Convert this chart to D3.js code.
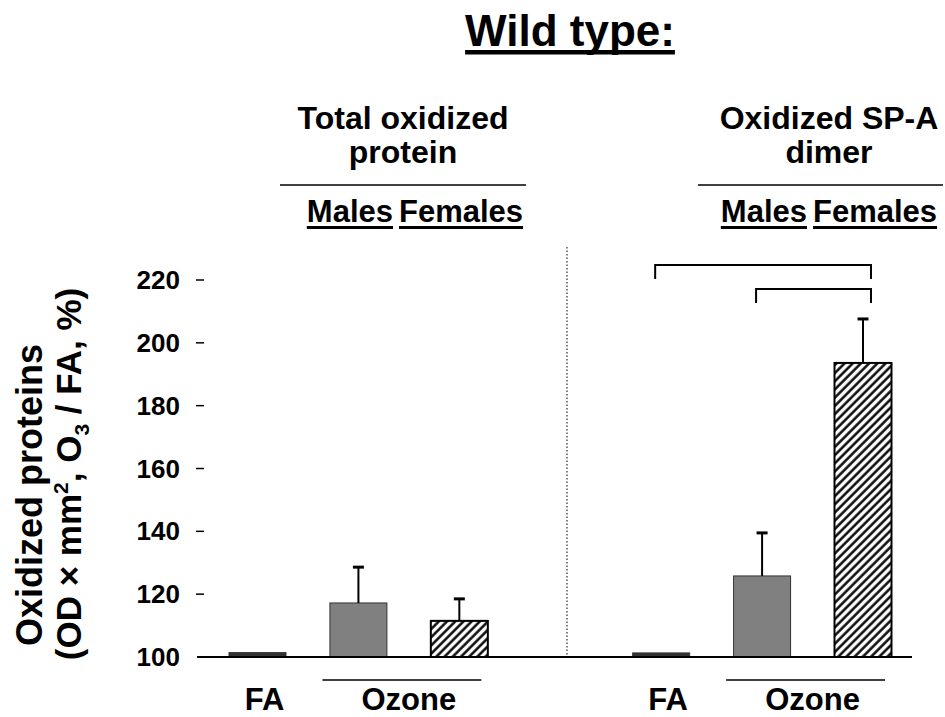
<!DOCTYPE html>
<html>
<head>
<meta charset="utf-8">
<script src="https://cdn.jsdelivr.net/npm/d3@7"></script>
<style>
  body { margin: 0; background: #fff; }
  text { font-family: "Liberation Sans", Arial, sans-serif; font-weight: bold; fill: #000; }
</style>
</head>
<body>
<svg id="chart" width="945" height="717"></svg>
<script>
// ---- data ----
const slots = ["FA1", "M1", "F1", "gap", "FA2", "M2", "F2"];
const groups = ["FA", "Males", "Females"];
const totalMean = [101.4, 117.2, 111.5];
const totalErr = [0, 11.4, 7.0];
const dimerMean = [101.3, 125.8, 193.6];
const dimerErr = [0, 13.7, 14.0];
const yTicks = [100, 120, 140, 160, 180, 200, 220];
const panelTitles = [["Total oxidized", "protein"], ["Oxidized SP-A", "dimer"]];
// significance brackets: [from slot, to slot, level]
const brackets = [["FA2", "F2", 224.8], ["M2", "F2", 217.1]];

const bars = [];
[[totalMean, totalErr, ["FA1", "M1", "F1"]], [dimerMean, dimerErr, ["FA2", "M2", "F2"]]]
  .forEach(([m, e, keys]) => {
    keys.forEach((k, i) => bars.push({ slot: k, group: groups[i], mean: m[i], err: e[i] }));
  });

const svg = d3.select("#chart");

const x = d3.scalePoint().domain(slots).range([257.5, 863]);
const y = d3.scaleLinear().domain([100, 220]).range([657, 280]);
const barW = 57;

// hatch pattern
const defs = svg.append("defs");
defs.append("pattern")
  .attr("id", "hatch")
  .attr("patternUnits", "userSpaceOnUse")
  .attr("width", 5.8).attr("height", 10)
  .attr("patternTransform", "rotate(45)")
  .append("line")
  .attr("x1", 1.5).attr("y1", -2).attr("x2", 1.5).attr("y2", 12)
  .attr("stroke", "#000").attr("stroke-width", 2.4);

// title
const title = svg.append("text")
  .attr("x", 570).attr("y", 46)
  .attr("text-anchor", "middle")
  .style("font-size", "44px")
  .text("Wild type:");
const tw = title.node().getComputedTextLength();
svg.append("rect")
  .attr("x", 570 - tw / 2).attr("y", 50)
  .attr("width", tw).attr("height", 4.5);

// panel headers
const headerCx = [403, 829];
const headerLine = [[280, 526], [698, 943]];
const headerSplit = [396, 810];
panelTitles.forEach((lines, p) => {
  lines.forEach((t, i) => {
    svg.append("text")
      .attr("x", headerCx[p]).attr("y", 129 + i * 34)
      .attr("text-anchor", "middle")
      .style("font-size", "32px")
      .text(t);
  });
  svg.append("line")
    .attr("x1", headerLine[p][0]).attr("x2", headerLine[p][1])
    .attr("y1", 185).attr("y2", 185)
    .attr("stroke", "#000").attr("stroke-width", 1.5);

  ["Males", "Females"].forEach((w, i) => {
    const t = svg.append("text")
      .attr("x", i === 0 ? headerSplit[p] - 3 : headerSplit[p] + 3)
      .attr("y", 222)
      .attr("text-anchor", i === 0 ? "end" : "start")
      .style("font-size", "31px")
      .text(w);
    const bb = t.node().getBBox();
    svg.append("rect")
      .attr("x", bb.x).attr("y", 226)
      .attr("width", bb.width).attr("height", 3);
  });
});

// y axis ticks (no spine)
const yg = svg.append("g");
yTicks.forEach(v => {
  yg.append("text")
    .attr("x", 180).attr("y", y(v) + 9)
    .attr("text-anchor", "end")
    .style("font-size", "26px")
    .text(v);
  if (v !== 100) {
    yg.append("line")
      .attr("x1", 196).attr("x2", 204)
      .attr("y1", y(v)).attr("y2", y(v))
      .attr("stroke", "#000").attr("stroke-width", 1.5);
  }
});

// y axis title
svg.append("text")
  .attr("transform", `translate(42,${495}) rotate(-90)`)
  .attr("text-anchor", "middle")
  .style("font-size", "36px")
  .text("Oxidized proteins");
const yt2 = svg.append("text")
  .attr("transform", `translate(81,${474}) rotate(-90)`)
  .attr("text-anchor", "middle")
  .style("font-size", "35px");
yt2.append("tspan").text("(OD × mm");
yt2.append("tspan").attr("dy", -13).style("font-size", "21px").text("2");
yt2.append("tspan").attr("dy", 13).text(", O");
yt2.append("tspan").attr("dy", 8).style("font-size", "21px").text("3");
yt2.append("tspan").attr("dy", -8).text(" / FA, %)");

// separator
svg.append("line")
  .attr("x1", 567).attr("x2", 567)
  .attr("y1", 247).attr("y2", 657)
  .attr("stroke", "#000").attr("stroke-width", 1)
  .attr("stroke-dasharray", "1.5,2");

// bars
const fillOf = g => g === "FA" ? "#333" : g === "Males" ? "#808080" : "url(#hatch)";
const strokeOf = g => g === "Females" ? "#000" : "#333";
svg.append("g").selectAll("rect")
  .data(bars)
  .join("rect")
  .attr("x", d => x(d.slot) - barW / 2)
  .attr("y", d => y(d.mean))
  .attr("width", barW)
  .attr("height", d => y(100) - y(d.mean))
  .attr("fill", d => fillOf(d.group))
  .attr("stroke", d => strokeOf(d.group))
  .attr("stroke-width", d => d.group === "Females" ? 2 : 1);

// error bars
const eb = svg.append("g").selectAll("g")
  .data(bars.filter(d => d.err > 0))
  .join("g");
eb.append("line")
  .attr("x1", d => x(d.slot)).attr("x2", d => x(d.slot))
  .attr("y1", d => y(d.mean)).attr("y2", d => y(d.mean + d.err))
  .attr("stroke", "#000").attr("stroke-width", 2);
eb.append("line")
  .attr("x1", d => x(d.slot) - 5.5).attr("x2", d => x(d.slot) + 5.5)
  .attr("y1", d => y(d.mean + d.err)).attr("y2", d => y(d.mean + d.err))
  .attr("stroke", "#000").attr("stroke-width", 3);

// baseline
svg.append("line")
  .attr("x1", 197).attr("x2", 912)
  .attr("y1", y(100)).attr("y2", y(100))
  .attr("stroke", "#000").attr("stroke-width", 2);

// brackets
svg.append("g").selectAll("path")
  .data(brackets)
  .join("path")
  .attr("d", ([a, b, lv]) => {
    const x1 = x(a) - 6, x2 = x(b) + 8, yy = y(lv);
    return `M${x1},${yy + 14}V${yy}H${x2}V${yy + 14}`;
  })
  .attr("fill", "none")
  .attr("stroke", "#000").attr("stroke-width", 2);

// bottom labels
[["FA1", "M1", "F1"], ["FA2", "M2", "F2"]].forEach(([fa, m, f]) => {
  svg.append("text")
    .attr("x", x(fa) + 7).attr("y", 710)
    .attr("text-anchor", "middle")
    .style("font-size", "31px")
    .text("FA");
  svg.append("line")
    .attr("x1", x(m) - 36).attr("x2", x(f) + 22)
    .attr("y1", 680).attr("y2", 680)
    .attr("stroke", "#000").attr("stroke-width", 1.5);
  svg.append("text")
    .attr("x", (x(m) + x(f)) / 2).attr("y", 710)
    .attr("text-anchor", "middle")
    .style("font-size", "31px")
    .text("Ozone");
});
</script>
</body>
</html>
